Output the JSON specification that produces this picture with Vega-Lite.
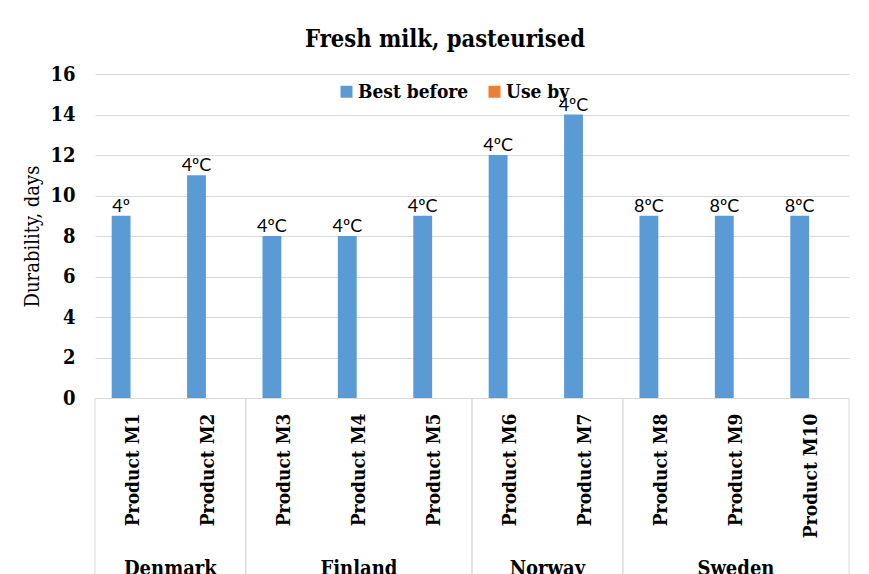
{
  "$schema": "https://vega.github.io/schema/vega-lite/v6.json",
  "autosize": {"type": "none"},
  "padding": {"left": 95, "top": 74, "right": 20, "bottom": 176},
  "width": 754,
  "height": 324,
  "background": "white",
  "title": {
    "text": "Fresh milk, pasteurised",
    "font": "DejaVu Serif Condensed",
    "fontSize": 23.5,
    "fontWeight": "bold",
    "color": "black",
    "anchor": "middle",
    "dx": -27,
    "offset": 13
  },
  "datasets": {
    "milk": [
      {"product": "Product M1", "series": "Best before", "days": 9, "label": "4º"},
      {"product": "Product M2", "series": "Best before", "days": 11, "label": "4ºC"},
      {"product": "Product M3", "series": "Best before", "days": 8, "label": "4ºC"},
      {"product": "Product M4", "series": "Best before", "days": 8, "label": "4ºC"},
      {"product": "Product M5", "series": "Best before", "days": 9, "label": "4ºC"},
      {"product": "Product M6", "series": "Best before", "days": 12, "label": "4ºC"},
      {"product": "Product M7", "series": "Best before", "days": 14, "label": "4ºC"},
      {"product": "Product M8", "series": "Best before", "days": 9, "label": "8ºC"},
      {"product": "Product M9", "series": "Best before", "days": 9, "label": "8ºC"},
      {"product": "Product M10", "series": "Best before", "days": 9, "label": "8ºC"}
    ],
    "groups": [
      {"country": "Denmark", "first": "Product M1", "last": "Product M2", "mid": "Product M1", "pos": "edge"},
      {"country": "Finland", "first": "Product M3", "last": "Product M5", "mid": "Product M4", "pos": "center"},
      {"country": "Norway", "first": "Product M6", "last": "Product M7", "mid": "Product M6", "pos": "edge"},
      {"country": "Sweden", "first": "Product M8", "last": "Product M10", "mid": "Product M9", "pos": "center"}
    ]
  },
  "layer": [
    {
      "data": {"name": "milk"},
      "mark": {"type": "bar"},
      "encoding": {
        "x": {
          "field": "product", "type": "nominal",
          "scale": {
            "domain": ["Product M1", "Product M2", "Product M3", "Product M4", "Product M5", "Product M6", "Product M7", "Product M8", "Product M9", "Product M10"],
            "paddingInner": 0, "paddingOuter": 0
          },
          "axis": {
            "title": null, "labelAngle": 270, "labelPadding": 15,
            "labelFont": "DejaVu Serif Condensed", "labelFontSize": 19, "labelFontWeight": "bold",
            "labelColor": "black", "ticks": false, "domainColor": "#d9d9d9", "domainWidth": 1
          }
        },
        "xOffset": {
          "field": "series", "type": "nominal",
          "scale": {"domain": ["Best before", "Use by"], "paddingInner": 0, "paddingOuter": 1.258, "align": 0.4425}
        },
        "y": {
          "field": "days", "type": "quantitative",
          "scale": {"domain": [0, 16], "nice": false},
          "axis": {
            "title": "Durability, days", "values": [0, 2, 4, 6, 8, 10, 12, 14, 16],
            "titleFont": "DejaVu Serif Condensed", "titleFontSize": 20, "titleFontWeight": "normal",
            "titleColor": "black", "titlePadding": 7,
            "labelFont": "DejaVu Serif Condensed", "labelFontSize": 20, "labelFontWeight": "bold",
            "labelColor": "black", "labelPadding": 20, "ticks": false, "domain": false,
            "gridColor": "#d9d9d9", "gridWidth": 1
          }
        },
        "color": {
          "field": "series", "type": "nominal",
          "scale": {"domain": ["Best before", "Use by"], "range": ["#5b9bd5", "#ed7d31"]},
          "legend": {
            "title": null, "orient": "none", "direction": "horizontal",
            "legendX": 242, "legendY": 8, "padding": 0,
            "symbolType": "square", "symbolSize": 144, "symbolStrokeWidth": 0, "symbolOpacity": 1,
            "labelFont": "DejaVu Serif Condensed", "labelFontSize": 19, "labelFontWeight": "bold",
            "labelColor": "black", "labelOffset": 2, "columnPadding": 16
          }
        }
      }
    },
    {
      "data": {"name": "milk"},
      "mark": {"type": "text", "baseline": "alphabetic", "dy": -4, "font": "Lato", "fontSize": 18, "color": "black"},
      "encoding": {
        "x": {"field": "product", "type": "nominal"},
        "xOffset": {"field": "series", "type": "nominal"},
        "y": {"field": "days", "type": "quantitative"},
        "text": {"field": "label"}
      }
    },
    {
      "data": {"name": "groups"},
      "mark": {"type": "rule", "color": "#d9d9d9", "strokeWidth": 1},
      "encoding": {
        "x": {"field": "first", "type": "nominal", "bandPosition": 0},
        "y": {"datum": 0},
        "y2": {"datum": -9}
      }
    },
    {
      "data": {"name": "groups"},
      "mark": {"type": "rule", "color": "#d9d9d9", "strokeWidth": 1},
      "encoding": {
        "x": {"field": "last", "type": "nominal", "bandPosition": 1},
        "y": {"datum": 0},
        "y2": {"datum": -9}
      }
    },
    {
      "data": {"name": "groups"},
      "transform": [{"filter": "datum.pos === 'edge'"}],
      "mark": {"type": "text", "baseline": "alphabetic", "font": "DejaVu Serif Condensed", "fontSize": 20, "fontWeight": "bold", "color": "black"},
      "encoding": {
        "x": {"field": "mid", "type": "nominal", "bandPosition": 1},
        "y": {"datum": -8.72},
        "text": {"field": "country"}
      }
    },
    {
      "data": {"name": "groups"},
      "transform": [{"filter": "datum.pos === 'center'"}],
      "mark": {"type": "text", "baseline": "alphabetic", "font": "DejaVu Serif Condensed", "fontSize": 20, "fontWeight": "bold", "color": "black"},
      "encoding": {
        "x": {"field": "mid", "type": "nominal", "bandPosition": 0.5},
        "y": {"datum": -8.72},
        "text": {"field": "country"}
      }
    }
  ],
  "config": {"view": {"stroke": null}}
}
